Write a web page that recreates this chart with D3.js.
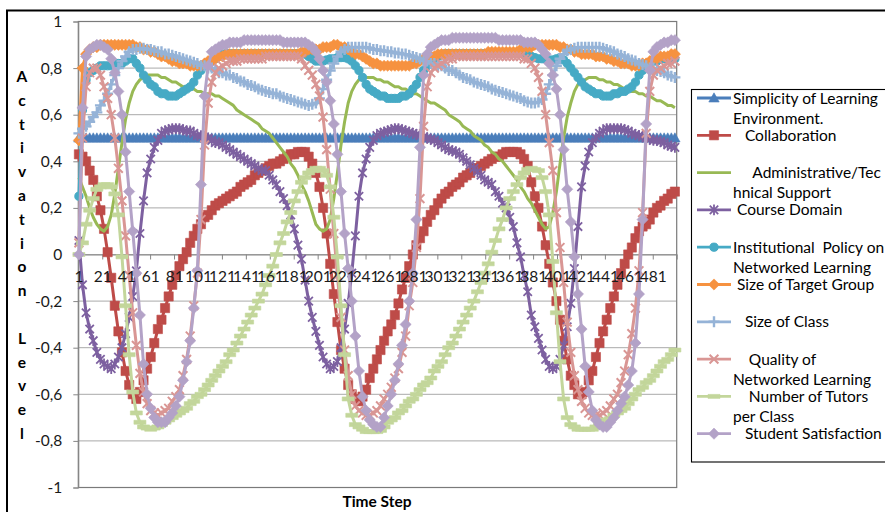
<!DOCTYPE html>
<html><head><meta charset="utf-8">
<script src="https://cdn.jsdelivr.net/npm/d3@7"></script>
<style>
body{margin:0;background:#fff}
svg text{font-family:Lato,"Liberation Sans",sans-serif}
</style>
</head><body>
<svg id="c" width="885" height="512"></svg>
<script>
// ---------- DATA ----------
const steps = [
1,4,7,10,13,16,19,22,25,28,
31,34,37,40,43,46,49,52,55,58,
61,64,67,70,73,76,79,82,85,88,
91,94,97,100,103,106,109,112,115,118,
121,124,127,130,133,136,139,142,145,148,
151,154,157,160,163,166,169,172,175,178,
181,184,187,190,193,196,199,202,205,208,
211,214,217,220,223,226,229,232,235,238,
241,244,247,250,253,256,259,262,265,268,
271,274,277,280,283,286,289,292,295,298,
301,304,307,310,313,316,319,322,325,328,
331,334,337,340,343,346,349,352,355,358,
361,364,367,370,373,376,379,382,385,388,
391,394,397,400,403,406,409,412,415,418,
421,424,427,430,433,436,439,442,445,448,
451,454,457,460,463,466,469,472,475,478,
481,484,487,490,493,496,499];

const simplicity = [
0.5,0.5,0.5,0.5,0.5,0.5,0.5,0.5,0.5,0.5,
0.5,0.5,0.5,0.5,0.5,0.5,0.5,0.5,0.5,0.5,
0.5,0.5,0.5,0.5,0.5,0.5,0.5,0.5,0.5,0.5,
0.5,0.5,0.5,0.5,0.5,0.5,0.5,0.5,0.5,0.5,
0.5,0.5,0.5,0.5,0.5,0.5,0.5,0.5,0.5,0.5,
0.5,0.5,0.5,0.5,0.5,0.5,0.5,0.5,0.5,0.5,
0.5,0.5,0.5,0.5,0.5,0.5,0.5,0.5,0.5,0.5,
0.5,0.5,0.5,0.5,0.5,0.5,0.5,0.5,0.5,0.5,
0.5,0.5,0.5,0.5,0.5,0.5,0.5,0.5,0.5,0.5,
0.5,0.5,0.5,0.5,0.5,0.5,0.5,0.5,0.5,0.5,
0.5,0.5,0.5,0.5,0.5,0.5,0.5,0.5,0.5,0.5,
0.5,0.5,0.5,0.5,0.5,0.5,0.5,0.5,0.5,0.5,
0.5,0.5,0.5,0.5,0.5,0.5,0.5,0.5,0.5,0.5,
0.5,0.5,0.5,0.5,0.5,0.5,0.5,0.5,0.5,0.5,
0.5,0.5,0.5,0.5,0.5,0.5,0.5,0.5,0.5,0.5,
0.5,0.5,0.5,0.5,0.5,0.5,0.5,0.5,0.5,0.5,
0.5,0.5,0.5,0.5,0.5,0.5,0.5];

const collaboration = [
0.43,0.42,0.4,0.36,0.32,0.25,0.19,0.11,0.01,-0.1,
-0.22,-0.33,-0.42,-0.5,-0.56,-0.6,-0.62,-0.59,-0.54,-0.49,
-0.44,-0.38,-0.32,-0.28,-0.23,-0.18,-0.13,-0.09,-0.05,-0.02,
0.01,0.05,0.08,0.11,0.13,0.16,0.17,0.19,0.21,0.22,
0.23,0.24,0.25,0.26,0.27,0.29,0.3,0.31,0.32,0.34,
0.35,0.36,0.37,0.38,0.39,0.39,0.4,0.41,0.42,0.43,
0.43,0.44,0.44,0.44,0.42,0.39,0.35,0.29,0.2,0.09,
-0.04,-0.17,-0.29,-0.41,-0.49,-0.56,-0.6,-0.62,-0.63,-0.61,
-0.58,-0.53,-0.49,-0.45,-0.41,-0.37,-0.33,-0.3,-0.26,-0.21,
-0.15,-0.1,-0.05,0,0.04,0.07,0.1,0.14,0.17,0.19,
0.22,0.24,0.26,0.27,0.29,0.3,0.31,0.33,0.34,0.35,
0.37,0.37,0.38,0.39,0.4,0.41,0.42,0.42,0.43,0.44,
0.44,0.44,0.44,0.43,0.41,0.38,0.31,0.25,0.2,0.12,
0.04,-0.04,-0.12,-0.2,-0.28,-0.37,-0.45,-0.52,-0.56,-0.6,
-0.6,-0.59,-0.54,-0.5,-0.44,-0.38,-0.33,-0.28,-0.23,-0.18,
-0.13,-0.08,-0.04,0,0.03,0.07,0.1,0.12,0.13,0.15,
0.18,0.2,0.21,0.23,0.24,0.26,0.27];

const adminSupport = [
0.33,0.29,0.25,0.2,0.16,0.13,0.11,0.1,0.12,0.17,
0.26,0.37,0.48,0.58,0.65,0.7,0.73,0.75,0.76,0.77,
0.77,0.77,0.77,0.76,0.76,0.75,0.74,0.74,0.73,0.72,
0.72,0.71,0.71,0.7,0.7,0.69,0.69,0.69,0.68,0.68,
0.67,0.66,0.65,0.64,0.62,0.61,0.6,0.59,0.58,0.57,
0.56,0.54,0.53,0.52,0.5,0.48,0.46,0.44,0.42,0.39,
0.37,0.34,0.3,0.27,0.23,0.18,0.13,0.11,0.1,0.11,
0.15,0.24,0.35,0.47,0.57,0.65,0.7,0.73,0.75,0.76,
0.76,0.76,0.76,0.75,0.75,0.74,0.74,0.73,0.72,0.72,
0.71,0.71,0.7,0.69,0.69,0.68,0.67,0.66,0.65,0.65,
0.64,0.63,0.62,0.6,0.59,0.58,0.57,0.55,0.54,0.53,
0.51,0.5,0.49,0.47,0.46,0.44,0.43,0.41,0.4,0.38,
0.36,0.34,0.32,0.29,0.27,0.24,0.22,0.19,0.16,0.13,
0.11,0.12,0.18,0.27,0.39,0.5,0.59,0.65,0.7,0.73,
0.74,0.75,0.76,0.76,0.76,0.75,0.75,0.74,0.74,0.73,
0.73,0.72,0.71,0.71,0.7,0.7,0.69,0.69,0.68,0.68,
0.67,0.66,0.66,0.65,0.64,0.64,0.63];

const courseDomain = [
0.06,-0.13,-0.25,-0.32,-0.37,-0.42,-0.45,-0.47,-0.48,-0.49,
-0.47,-0.44,-0.4,-0.34,-0.27,-0.18,-0.07,0.09,0.23,0.35,
0.41,0.46,0.49,0.52,0.53,0.535,0.54,0.54,0.54,0.535,
0.53,0.53,0.52,0.51,0.51,0.5,0.5,0.49,0.48,0.48,
0.47,0.46,0.45,0.44,0.43,0.42,0.41,0.4,0.39,0.38,
0.37,0.36,0.36,0.34,0.32,0.3,0.27,0.24,0.21,0.17,
0.11,0.04,-0.02,-0.11,-0.2,-0.27,-0.33,-0.39,-0.44,-0.47,
-0.49,-0.48,-0.46,-0.4,-0.32,-0.21,-0.08,0.08,0.25,0.35,
0.41,0.46,0.49,0.51,0.52,0.525,0.53,0.535,0.54,0.54,
0.535,0.53,0.525,0.52,0.515,0.51,0.505,0.5,0.495,0.49,
0.48,0.47,0.46,0.45,0.445,0.44,0.43,0.415,0.4,0.385,
0.37,0.355,0.34,0.32,0.31,0.3,0.27,0.25,0.22,0.2,
0.16,0.12,0.05,-0.01,-0.09,-0.16,-0.26,-0.31,-0.36,-0.41,
-0.45,-0.48,-0.49,-0.48,-0.45,-0.39,-0.31,-0.21,-0.06,0.12,
0.29,0.38,0.44,0.48,0.5,0.52,0.53,0.54,0.54,0.54,
0.54,0.54,0.535,0.53,0.52,0.515,0.51,0.505,0.5,0.495,
0.49,0.49,0.485,0.48,0.47,0.465,0.46];

const institutionalPolicy = [
0.25,0.62,0.75,0.78,0.79,0.8,0.81,0.81,0.81,0.81,
0.81,0.82,0.82,0.83,0.84,0.84,0.82,0.8,0.77,0.75,
0.73,0.72,0.7,0.69,0.69,0.68,0.68,0.68,0.69,0.7,
0.71,0.72,0.74,0.77,0.79,0.81,0.82,0.83,0.84,0.85,
0.86,0.862,0.862,0.862,0.862,0.862,0.862,0.862,0.862,0.862,
0.862,0.862,0.862,0.862,0.862,0.862,0.862,0.862,0.862,0.862,
0.862,0.862,0.862,0.86,0.85,0.84,0.83,0.83,0.83,0.835,
0.84,0.84,0.845,0.845,0.845,0.84,0.83,0.81,0.79,0.76,
0.73,0.71,0.7,0.69,0.68,0.68,0.67,0.67,0.67,0.67,
0.68,0.68,0.69,0.71,0.73,0.76,0.79,0.81,0.83,0.84,
0.85,0.86,0.862,0.862,0.862,0.862,0.862,0.862,0.862,0.862,
0.862,0.862,0.862,0.862,0.865,0.865,0.865,0.865,0.865,0.865,
0.865,0.865,0.865,0.865,0.86,0.855,0.85,0.845,0.84,0.84,
0.84,0.835,0.835,0.84,0.845,0.835,0.82,0.8,0.78,0.76,
0.74,0.72,0.71,0.7,0.69,0.69,0.68,0.68,0.68,0.69,
0.69,0.7,0.7,0.71,0.72,0.74,0.77,0.79,0.81,0.82,
0.83,0.83,0.84,0.84,0.84,0.84,0.84];

const targetGroup = [
0.49,0.8,0.86,0.88,0.89,0.89,0.9,0.9,0.9,0.9,
0.9,0.9,0.9,0.9,0.9,0.9,0.89,0.89,0.88,0.88,
0.87,0.87,0.86,0.85,0.85,0.84,0.83,0.83,0.82,0.82,
0.82,0.81,0.81,0.81,0.81,0.82,0.83,0.83,0.84,0.85,
0.85,0.86,0.86,0.86,0.86,0.86,0.86,0.86,0.86,0.86,
0.86,0.86,0.86,0.86,0.86,0.86,0.86,0.86,0.86,0.86,
0.86,0.86,0.87,0.87,0.88,0.88,0.88,0.88,0.89,0.89,
0.89,0.9,0.9,0.89,0.89,0.88,0.87,0.86,0.86,0.85,
0.84,0.83,0.82,0.82,0.81,0.81,0.81,0.81,0.81,0.81,
0.81,0.81,0.81,0.82,0.82,0.83,0.84,0.84,0.85,0.85,
0.86,0.86,0.86,0.86,0.86,0.86,0.86,0.86,0.86,0.86,
0.86,0.86,0.86,0.86,0.87,0.87,0.87,0.87,0.87,0.87,
0.87,0.87,0.87,0.88,0.89,0.89,0.89,0.9,0.9,0.9,
0.9,0.9,0.9,0.9,0.89,0.89,0.88,0.88,0.87,0.87,
0.86,0.86,0.86,0.86,0.85,0.85,0.85,0.84,0.84,0.83,
0.83,0.82,0.82,0.82,0.81,0.81,0.81,0.82,0.82,0.83,
0.84,0.84,0.85,0.85,0.85,0.86,0.86];

const classSize = [
0.52,0.54,0.55,0.57,0.59,0.61,0.64,0.66,0.69,0.73,
0.77,0.8,0.83,0.85,0.87,0.88,0.88,0.885,0.885,0.88,
0.88,0.875,0.87,0.87,0.86,0.86,0.855,0.85,0.845,0.84,
0.835,0.83,0.825,0.82,0.81,0.81,0.8,0.8,0.79,0.78,
0.78,0.77,0.77,0.76,0.755,0.745,0.74,0.73,0.725,0.72,
0.71,0.705,0.7,0.695,0.69,0.69,0.68,0.675,0.67,0.665,
0.66,0.655,0.65,0.645,0.64,0.645,0.65,0.67,0.71,0.75,
0.79,0.82,0.85,0.87,0.88,0.89,0.89,0.89,0.89,0.89,
0.89,0.885,0.88,0.88,0.875,0.875,0.87,0.87,0.865,0.865,
0.86,0.86,0.855,0.85,0.845,0.84,0.83,0.83,0.82,0.82,
0.81,0.81,0.8,0.79,0.79,0.78,0.77,0.76,0.755,0.75,
0.74,0.735,0.73,0.725,0.72,0.71,0.705,0.7,0.695,0.69,
0.685,0.68,0.675,0.67,0.66,0.655,0.65,0.65,0.655,0.665,
0.69,0.73,0.77,0.81,0.84,0.86,0.875,0.88,0.885,0.89,
0.89,0.89,0.89,0.89,0.89,0.89,0.885,0.88,0.875,0.87,
0.86,0.855,0.85,0.84,0.835,0.83,0.82,0.815,0.81,0.8,
0.8,0.79,0.785,0.78,0.77,0.765,0.76];

const qualityNL = [
0.05,0.5,0.72,0.78,0.8,0.8,0.77,0.72,0.67,0.6,
0.5,0.37,0.23,0.08,-0.09,-0.25,-0.39,-0.51,-0.59,-0.64,
-0.67,-0.68,-0.69,-0.68,-0.67,-0.66,-0.63,-0.61,-0.58,-0.52,
-0.45,-0.35,-0.22,-0.08,0.15,0.47,0.65,0.74,0.78,0.8,
0.81,0.82,0.83,0.83,0.83,0.84,0.84,0.84,0.84,0.84,
0.84,0.84,0.85,0.85,0.85,0.85,0.85,0.85,0.85,0.85,
0.85,0.85,0.84,0.81,0.79,0.77,0.73,0.68,0.59,0.45,
0.28,0.09,-0.09,-0.27,-0.41,-0.52,-0.6,-0.65,-0.67,-0.68,
-0.69,-0.69,-0.68,-0.67,-0.65,-0.62,-0.6,-0.57,-0.53,-0.49,
-0.42,-0.35,-0.22,-0.12,0.03,0.24,0.55,0.72,0.78,0.8,
0.81,0.82,0.83,0.84,0.84,0.85,0.85,0.85,0.85,0.85,
0.85,0.85,0.85,0.85,0.85,0.85,0.85,0.85,0.85,0.85,
0.85,0.85,0.85,0.85,0.84,0.84,0.82,0.8,0.76,0.7,
0.6,0.48,0.36,0.18,0.03,-0.12,-0.29,-0.42,-0.52,-0.58,
-0.63,-0.66,-0.68,-0.69,-0.69,-0.69,-0.68,-0.67,-0.65,-0.62,
-0.6,-0.55,-0.5,-0.43,-0.34,-0.23,-0.07,0.18,0.52,0.7,
0.77,0.79,0.8,0.81,0.82,0.82,0.83];

const tutors = [
0,0.05,0.13,0.19,0.24,0.28,0.29,0.3,0.3,0.29,
0.26,0.17,-0.01,-0.22,-0.43,-0.59,-0.68,-0.72,-0.74,-0.745,
-0.75,-0.745,-0.74,-0.73,-0.72,-0.71,-0.7,-0.69,-0.68,-0.67,
-0.66,-0.64,-0.63,-0.61,-0.6,-0.58,-0.56,-0.54,-0.52,-0.5,
-0.48,-0.46,-0.43,-0.41,-0.38,-0.35,-0.32,-0.29,-0.26,-0.23,
-0.2,-0.17,-0.13,-0.09,-0.05,0,0.05,0.09,0.14,0.18,
0.23,0.27,0.31,0.33,0.35,0.36,0.37,0.37,0.36,0.34,
0.29,0.16,-0.01,-0.22,-0.43,-0.62,-0.69,-0.73,-0.74,-0.75,
-0.76,-0.76,-0.76,-0.76,-0.755,-0.74,-0.72,-0.71,-0.7,-0.68,
-0.67,-0.65,-0.63,-0.62,-0.6,-0.58,-0.56,-0.55,-0.53,-0.5,
-0.48,-0.46,-0.43,-0.4,-0.38,-0.35,-0.32,-0.29,-0.26,-0.23,
-0.2,-0.16,-0.12,-0.08,-0.04,0.01,0.06,0.11,0.15,0.2,
0.24,0.27,0.3,0.33,0.35,0.365,0.37,0.365,0.36,0.33,
0.27,0.17,-0.03,-0.25,-0.46,-0.62,-0.7,-0.73,-0.74,-0.75,
-0.75,-0.75,-0.75,-0.75,-0.74,-0.73,-0.72,-0.71,-0.705,-0.69,
-0.68,-0.67,-0.66,-0.64,-0.62,-0.6,-0.58,-0.57,-0.55,-0.54,
-0.52,-0.5,-0.48,-0.46,-0.45,-0.43,-0.41];

const satisfaction = [
0,0.63,0.85,0.88,0.89,0.9,0.9,0.89,0.88,0.84,
0.78,0.7,0.6,0.44,0.27,0.1,-0.08,-0.26,-0.47,-0.6,
-0.66,-0.7,-0.72,-0.72,-0.72,-0.7,-0.68,-0.65,-0.61,-0.54,
-0.46,-0.37,-0.23,-0.07,0.3,0.68,0.81,0.87,0.88,0.89,
0.9,0.9,0.91,0.91,0.91,0.91,0.92,0.92,0.92,0.92,
0.92,0.92,0.92,0.92,0.92,0.92,0.92,0.91,0.91,0.91,
0.91,0.91,0.91,0.91,0.9,0.89,0.87,0.84,0.79,0.74,
0.66,0.56,0.43,0.27,0.09,-0.06,-0.2,-0.35,-0.5,-0.61,
-0.67,-0.71,-0.73,-0.74,-0.74,-0.7,-0.65,-0.6,-0.54,-0.47,
-0.39,-0.3,-0.2,-0.08,0.15,0.46,0.77,0.86,0.89,0.9,
0.91,0.92,0.92,0.92,0.93,0.93,0.93,0.93,0.93,0.93,
0.93,0.93,0.93,0.93,0.93,0.93,0.93,0.92,0.92,0.92,
0.92,0.92,0.92,0.92,0.91,0.91,0.91,0.91,0.9,0.88,
0.86,0.82,0.77,0.71,0.6,0.45,0.28,0.14,-0.01,-0.17,
-0.32,-0.48,-0.59,-0.67,-0.71,-0.73,-0.74,-0.74,-0.72,-0.7,
-0.67,-0.64,-0.61,-0.56,-0.5,-0.38,-0.17,0.15,0.56,0.79,
0.87,0.89,0.9,0.91,0.91,0.92,0.92];

const xTickLabels = ["1","21","41","61","81","101","121","141","161","181","201","221","241","261","281","301","321","341","361","381","401","421","441","461","481"];
const xLabelSteps = [1,21,41,61,81,101,121,141,161,181,201,221,241,261,281,301,321,341,361,381,401,421,441,461,481];
const yTicks = [1,0.8,0.6,0.4,0.2,0,-0.2,-0.4,-0.6,-0.8,-1];
const yTickLabels = ["1","0,8","0,6","0,4","0,2","0","-0,2","-0,4","-0,6","-0,8","-1"];

const seriesValues = [simplicity,collaboration,adminSupport,courseDomain,institutionalPolicy,targetGroup,classSize,qualityNL,tutors,satisfaction];
const seriesColors = ["#4A7EBB","#BE4B48","#98B954","#7D60A0","#46AAC5","#F69240","#95B3D7","#D99694","#C3D69B","#B3A2C7"];
const seriesMarkers = ["triangle","square","none","asterisk","circle","diamond","plus","times","dash","diamond"];
const legendLines = [
 ["Simplicity of Learning","Environment."],
 ["   Collaboration"],
 ["     Administrative/Tec","hnical Support"],
 [" Course Domain"],
 ["Institutional  Policy on","Networked Learning"],
 [" Size of Target Group"],
 ["   Size of Class"],
 ["    Quality of","Networked Learning"],
 ["    Number of Tutors","per Class"],
 ["   Student Satisfaction"]];

// ---------- CHART ----------
const svg = d3.select("#c");
const x = d3.scaleLinear().domain([0.5, 500.5]).range([78.3, 676.7]);
const y = d3.scaleLinear().domain([-1, 1]).range([487.5, 21.5]);

svg.append("rect").attr("x",7).attr("y",10.5).attr("width",920).attr("height",540)
  .attr("fill","#fff").attr("stroke","#000").attr("stroke-width",2);

// gridlines
svg.append("g").selectAll("line").data(yTicks).join("line")
  .attr("x1",x(0.5)).attr("x2",x(500.5))
  .attr("y1",d=>y(d)).attr("y2",d=>y(d))
  .attr("stroke","#a9a9a9").attr("stroke-width",1);

// plot border
svg.append("rect").attr("x",x(0.5)).attr("y",y(1)).attr("width",x(500.5)-x(0.5)).attr("height",y(-1)-y(1))
  .attr("fill","none").attr("stroke","#7a7a7a").attr("stroke-width",1.2);

// y axis
const yAxis = d3.axisLeft(y).tickValues(yTicks).tickFormat((d,i)=>yTickLabels[i]).tickSize(5).tickPadding(11);
const gy = svg.append("g").attr("transform",`translate(${x(0.5)},0)`).call(yAxis);
gy.select(".domain").attr("stroke","#868686");
gy.selectAll(".tick line").attr("stroke","#868686");
gy.selectAll("text").attr("font-size",15.5).attr("fill","#1a1a1a").style("font-family","Lato");

// x axis at 0
const tickBounds = xLabelSteps.map(s=>s-0.5).concat([500.5]);
const xAxis = d3.axisBottom(x).tickValues(tickBounds).tickFormat("").tickSize(5).tickSizeOuter(0);
const gx = svg.append("g").attr("transform",`translate(0,${y(0)})`).call(xAxis);
gx.select(".domain").attr("stroke","#868686");
gx.selectAll(".tick line").attr("stroke","#868686");

// series
const markerPath = {
  triangle:"M0,-5.2L5.2,4L-5.2,4Z",
  square:"M-4.6,-4.6H4.6V4.6H-4.6Z",
  diamond:"M0,-5.6L5.6,0L0,5.6L-5.6,0Z",
  asterisk:"M-4.2,-4.2L4.2,4.2M-4.2,4.2L4.2,-4.2M0,-5.4V5.4",
  plus:"M-5.5,0H5.5M0,-5.5V5.5",
  times:"M-4.4,-4.4L4.4,4.4M-4.4,4.4L4.4,-4.4",
  dash:"M-6,-2H6V2H-6Z"
};
const markerStroke = {asterisk:1.8, plus:2.4, times:2};
const line = d3.line().x(d=>x(d.s)).y(d=>y(d.v));

function drawMarker(sel, type, color){
  if(type==="none") return;
  if(type==="circle"){
    sel.append("circle").attr("r",4.1).attr("fill",color).attr("stroke",color);
  } else if(markerStroke[type]){
    sel.append("path").attr("d",markerPath[type]).attr("fill","none").attr("stroke",color).attr("stroke-width",markerStroke[type]);
  } else {
    sel.append("path").attr("d",markerPath[type]).attr("fill",color).attr("stroke",color).attr("stroke-width",0.6);
  }
}

seriesValues.forEach((vals,i)=>{
  const pts = steps.map((s,k)=>({s:s, v:vals[k]}));
  const g = svg.append("g");
  g.append("path").datum(pts).attr("d",line).attr("fill","none")
    .attr("stroke",seriesColors[i]).attr("stroke-width",3).attr("stroke-linejoin","round");
  if(seriesMarkers[i]!=="none"){
    const m = g.selectAll("g.m").data(pts).join("g").attr("class","m")
      .attr("transform",d=>`translate(${x(d.s)},${y(d.v)})`);
    drawMarker(m, seriesMarkers[i], seriesColors[i]);
  }
});

// x labels
svg.append("g").selectAll("text").data(xTickLabels).join("text")
  .attr("x",(d,i)=>x(xLabelSteps[i])).attr("y",y(0)+27)
  .attr("text-anchor","middle").attr("font-size",15.5).attr("fill","#1a1a1a").text(d=>d);

// axis titles
svg.append("text").attr("x",377).attr("y",507).attr("text-anchor","middle")
  .attr("font-size",15.5).attr("font-weight","bold").attr("fill","#000").text("Time Step");
const yTitle = "Activation Level".split("");
svg.append("g").selectAll("text").data(yTitle).join("text")
  .attr("x",22).attr("y",(d,i)=>76.5+i*23.8).attr("dy","0.36em")
  .attr("text-anchor","middle").attr("font-size",15.5).attr("font-weight","bold").attr("fill","#000")
  .text(d=>d);

// legend
const lg = svg.append("g");
lg.append("rect").attr("x",691.5).attr("y",89.5).attr("width",220).attr("height",372.5)
  .attr("fill","#fff").attr("stroke","#000").attr("stroke-width",1.1);
legendLines.forEach((lines,i)=>{
  const cy = 98 + i*37.3;
  const e = lg.append("g");
  e.append("line").attr("x1",697).attr("x2",731).attr("y1",cy).attr("y2",cy)
    .attr("stroke",seriesColors[i]).attr("stroke-width",2.8);
  const mg = e.append("g").attr("transform",`translate(714,${cy})`);
  drawMarker(mg, seriesMarkers[i], seriesColors[i]);
  lines.forEach((t,j)=>{
    e.append("text").attr("x",733).attr("y",cy + j*20).attr("dy","0.36em")
      .attr("xml:space","preserve").style("white-space","pre")
      .attr("font-size",15.5).attr("fill","#000").text(t);
  });
});
</script>
</body></html>
